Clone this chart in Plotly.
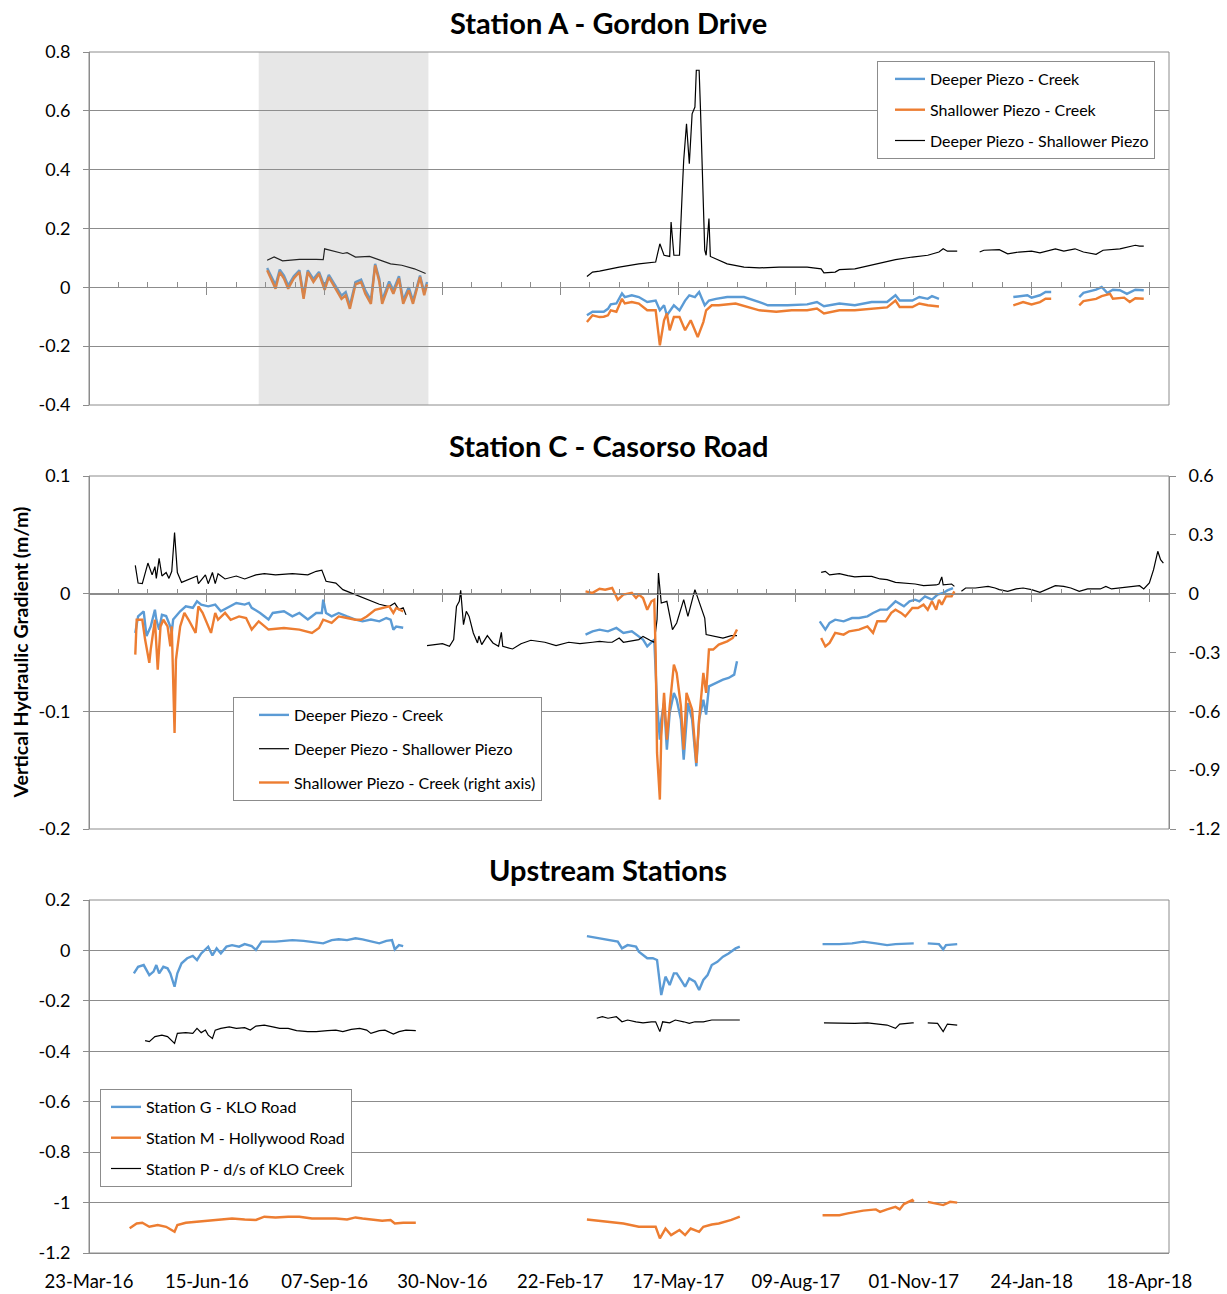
import plotly.graph_objects as go

# ---------------------------------------------------------------------------
# Vertical hydraulic gradient readings (m/m): (date, value); None = no record
# ---------------------------------------------------------------------------

# Station A - Gordon Drive
A_DEEP_CREEK = [
    ("2016-07-28", 0.066), ("2016-08-01", 0.030), ("2016-08-03", 0.008), ("2016-08-06", 0.060),
    ("2016-08-09", 0.040), ("2016-08-12", 0.006), ("2016-08-16", 0.038), ("2016-08-20", 0.058),
    ("2016-08-23", -0.028), ("2016-08-26", 0.058), ("2016-08-30", 0.028), ("2016-09-03", 0.052),
    ("2016-09-07", 0.002), ("2016-09-10", 0.042), ("2016-09-15", 0.002), ("2016-09-19", -0.028),
    ("2016-09-22", -0.016), ("2016-09-25", -0.062), ("2016-09-29", 0.018), ("2016-10-03", 0.026),
    ("2016-10-06", -0.010), ("2016-10-10", -0.044), ("2016-10-13", 0.080), ("2016-10-16", 0.028),
    ("2016-10-18", -0.044), ("2016-10-23", 0.020), ("2016-10-26", -0.010), ("2016-10-30", 0.038),
    ("2016-11-02", -0.044), ("2016-11-06", 0.000), ("2016-11-09", -0.046), ("2016-11-11", -0.012),
    ("2016-11-14", 0.040), ("2016-11-17", -0.016), ("2016-11-19", 0.018),
    ("2017-01-15", None),
    ("2017-03-13", -0.095), ("2017-03-17", -0.083), ("2017-03-25", -0.083), ("2017-03-28", -0.073),
    ("2017-03-30", -0.058), ("2017-04-03", -0.055), ("2017-04-07", -0.021), ("2017-04-09", -0.033),
    ("2017-04-14", -0.027), ("2017-04-19", -0.033), ("2017-04-25", -0.050), ("2017-05-01", -0.045),
    ("2017-05-04", -0.078), ("2017-05-07", -0.061), ("2017-05-09", -0.095), ("2017-05-14", -0.061),
    ("2017-05-18", -0.078), ("2017-05-22", -0.045), ("2017-05-25", -0.027), ("2017-05-29", -0.033),
    ("2017-06-01", -0.016), ("2017-06-05", -0.061), ("2017-06-08", -0.045), ("2017-06-13", -0.039),
    ("2017-06-21", -0.033), ("2017-07-03", -0.033), ("2017-07-14", -0.050), ("2017-07-20", -0.061),
    ("2017-08-03", -0.061), ("2017-08-17", -0.058), ("2017-08-24", -0.050), ("2017-08-29", -0.064),
    ("2017-09-09", -0.055), ("2017-09-20", -0.061), ("2017-10-02", -0.050), ("2017-10-13", -0.050),
    ("2017-10-19", -0.027), ("2017-10-22", -0.045), ("2017-10-31", -0.045), ("2017-11-05", -0.033),
    ("2017-11-11", -0.039), ("2017-11-14", -0.030), ("2017-11-19", -0.039),
    ("2017-12-20", None),
    ("2018-01-11", -0.033), ("2018-01-21", -0.027), ("2018-01-24", -0.035), ("2018-01-30", -0.027),
    ("2018-02-03", -0.016), ("2018-02-07", -0.016),
    ("2018-02-18", None),
    ("2018-02-27", -0.033), ("2018-03-02", -0.019), ("2018-03-11", -0.008), ("2018-03-15", 0.001),
    ("2018-03-19", -0.019), ("2018-03-23", -0.008), ("2018-03-28", -0.010), ("2018-04-02", -0.022),
    ("2018-04-08", -0.008), ("2018-04-14", -0.010),
]

A_SHALLOW_CREEK = [
    ("2016-07-28", 0.058), ("2016-08-01", 0.018), ("2016-08-03", -0.005), ("2016-08-06", 0.052),
    ("2016-08-09", 0.030), ("2016-08-12", -0.005), ("2016-08-16", 0.030), ("2016-08-20", 0.052),
    ("2016-08-23", -0.039), ("2016-08-26", 0.052), ("2016-08-30", 0.018), ("2016-09-03", 0.046),
    ("2016-09-07", -0.009), ("2016-09-10", 0.035), ("2016-09-15", -0.009), ("2016-09-19", -0.039),
    ("2016-09-22", -0.027), ("2016-09-25", -0.073), ("2016-09-29", 0.010), ("2016-10-03", 0.018),
    ("2016-10-06", -0.022), ("2016-10-10", -0.056), ("2016-10-13", 0.075), ("2016-10-16", 0.018),
    ("2016-10-18", -0.056), ("2016-10-23", 0.010), ("2016-10-26", -0.022), ("2016-10-30", 0.030),
    ("2016-11-02", -0.056), ("2016-11-06", -0.010), ("2016-11-09", -0.056), ("2016-11-11", -0.022),
    ("2016-11-14", 0.035), ("2016-11-17", -0.027), ("2016-11-19", 0.010),
    ("2017-01-15", None),
    ("2017-03-13", -0.118), ("2017-03-17", -0.095), ("2017-03-22", -0.101), ("2017-03-25", -0.100),
    ("2017-03-28", -0.095), ("2017-03-30", -0.078), ("2017-04-03", -0.083), ("2017-04-07", -0.039),
    ("2017-04-09", -0.055), ("2017-04-14", -0.050), ("2017-04-19", -0.055), ("2017-04-25", -0.078),
    ("2017-05-01", -0.078), ("2017-05-04", -0.197), ("2017-05-07", -0.112), ("2017-05-09", -0.089),
    ("2017-05-11", -0.146), ("2017-05-14", -0.101), ("2017-05-18", -0.101), ("2017-05-22", -0.146),
    ("2017-05-26", -0.112), ("2017-05-31", -0.169), ("2017-06-04", -0.118), ("2017-06-06", -0.078),
    ("2017-06-10", -0.061), ("2017-06-15", -0.061), ("2017-06-27", -0.055), ("2017-07-05", -0.067),
    ("2017-07-14", -0.078), ("2017-07-26", -0.083), ("2017-08-06", -0.078), ("2017-08-17", -0.078),
    ("2017-08-24", -0.072), ("2017-08-29", -0.089), ("2017-09-09", -0.078), ("2017-09-20", -0.078),
    ("2017-10-02", -0.072), ("2017-10-13", -0.068), ("2017-10-19", -0.045), ("2017-10-22", -0.067),
    ("2017-10-31", -0.067), ("2017-11-05", -0.055), ("2017-11-11", -0.061), ("2017-11-19", -0.065),
    ("2017-12-20", None),
    ("2018-01-11", -0.061), ("2018-01-18", -0.050), ("2018-01-24", -0.058), ("2018-01-30", -0.050),
    ("2018-02-03", -0.039), ("2018-02-07", -0.039),
    ("2018-02-18", None),
    ("2018-02-27", -0.061), ("2018-03-02", -0.047), ("2018-03-11", -0.039), ("2018-03-15", -0.030),
    ("2018-03-21", -0.022), ("2018-03-23", -0.039), ("2018-03-31", -0.035), ("2018-04-04", -0.050),
    ("2018-04-08", -0.037), ("2018-04-14", -0.039),
]

A_DEEP_SHALLOW = [
    ("2016-07-28", 0.092), ("2016-08-02", 0.103), ("2016-08-08", 0.090), ("2016-08-20", 0.095),
    ("2016-09-01", 0.095), ("2016-09-06", 0.094), ("2016-09-07", 0.131), ("2016-09-15", 0.120),
    ("2016-09-20", 0.115), ("2016-09-23", 0.118), ("2016-09-29", 0.103), ("2016-10-09", 0.105),
    ("2016-10-16", 0.094), ("2016-10-24", 0.080), ("2016-11-01", 0.075), ("2016-11-10", 0.063),
    ("2016-11-18", 0.047),
    ("2017-01-15", None),
    ("2017-03-13", 0.037), ("2017-03-17", 0.052), ("2017-03-22", 0.055), ("2017-03-25", 0.058),
    ("2017-04-05", 0.069), ("2017-04-19", 0.080), ("2017-05-01", 0.086), ("2017-05-04", 0.148),
    ("2017-05-07", 0.109), ("2017-05-11", 0.105), ("2017-05-12", 0.222), ("2017-05-14", 0.109),
    ("2017-05-18", 0.109), ("2017-05-20", 0.330), ("2017-05-21", 0.432), ("2017-05-23", 0.556),
    ("2017-05-25", 0.420), ("2017-05-27", 0.590), ("2017-05-29", 0.613), ("2017-05-30", 0.738),
    ("2017-06-01", 0.738), ("2017-06-02", 0.600), ("2017-06-04", 0.296), ("2017-06-05", 0.126),
    ("2017-06-06", 0.109), ("2017-06-08", 0.234), ("2017-06-09", 0.105), ("2017-06-13", 0.097),
    ("2017-06-21", 0.080), ("2017-07-03", 0.069), ("2017-07-14", 0.066), ("2017-07-28", 0.069),
    ("2017-08-17", 0.069), ("2017-08-27", 0.063), ("2017-08-29", 0.049), ("2017-09-06", 0.052),
    ("2017-09-09", 0.060), ("2017-09-20", 0.063), ("2017-10-02", 0.075), ("2017-10-13", 0.086),
    ("2017-10-19", 0.094), ("2017-10-31", 0.103), ("2017-11-11", 0.109), ("2017-11-19", 0.120),
    ("2017-11-22", 0.131), ("2017-11-25", 0.123), ("2017-12-02", 0.123),
    ("2017-12-10", None),
    ("2017-12-18", 0.120), ("2017-12-21", 0.126), ("2018-01-01", 0.128), ("2018-01-07", 0.114),
    ("2018-01-15", 0.120), ("2018-01-24", 0.123), ("2018-01-30", 0.117), ("2018-02-10", 0.131),
    ("2018-02-16", 0.123), ("2018-02-24", 0.131), ("2018-03-02", 0.120), ("2018-03-11", 0.112),
    ("2018-03-16", 0.126), ("2018-03-28", 0.131), ("2018-04-08", 0.143), ("2018-04-11", 0.140),
    ("2018-04-14", 0.140),
]

# Station C - Casorso Road
C_DEEP_CREEK = [
    ("2016-04-25", -0.0334), ("2016-04-27", -0.0193), ("2016-05-01", -0.0150), ("2016-05-03", -0.0360),
    ("2016-05-06", -0.0280), ("2016-05-09", -0.0136), ("2016-05-10", -0.0220), ("2016-05-12", -0.0306),
    ("2016-05-14", -0.0180), ("2016-05-17", -0.0190), ("2016-05-20", -0.0280), ("2016-05-21", -0.0330),
    ("2016-05-22", -0.0220), ("2016-05-27", -0.0150), ("2016-05-31", -0.0108), ("2016-06-05", -0.0120),
    ("2016-06-08", -0.0065), ("2016-06-11", -0.0093), ("2016-06-16", -0.0108), ("2016-06-21", -0.0093),
    ("2016-06-25", -0.0150), ("2016-07-01", -0.0108), ("2016-07-06", -0.0079), ("2016-07-12", -0.0093),
    ("2016-07-15", -0.0079), ("2016-07-17", -0.0120), ("2016-07-23", -0.0164), ("2016-07-29", -0.0220),
    ("2016-08-01", -0.0164), ("2016-08-09", -0.0150), ("2016-08-15", -0.0193), ("2016-08-20", -0.0164),
    ("2016-08-26", -0.0220), ("2016-09-01", -0.0164), ("2016-09-05", -0.0164), ("2016-09-06", -0.0051),
    ("2016-09-08", -0.0164), ("2016-09-12", -0.0193), ("2016-09-17", -0.0164), ("2016-09-23", -0.0193),
    ("2016-09-29", -0.0220), ("2016-10-04", -0.0235), ("2016-10-10", -0.0220), ("2016-10-16", -0.0235),
    ("2016-10-21", -0.0207), ("2016-10-24", -0.0220), ("2016-10-26", -0.0306), ("2016-10-28", -0.0280),
    ("2016-11-02", -0.0290),
    ("2017-01-15", None),
    ("2017-03-12", -0.0348), ("2017-03-17", -0.0320), ("2017-03-22", -0.0306), ("2017-03-28", -0.0320),
    ("2017-04-03", -0.0291), ("2017-04-08", -0.0334), ("2017-04-14", -0.0320), ("2017-04-17", -0.0348),
    ("2017-04-22", -0.0390), ("2017-04-25", -0.0448), ("2017-04-30", -0.0390), ("2017-05-02", -0.0929),
    ("2017-05-04", -0.1240), ("2017-05-05", -0.1070), ("2017-05-07", -0.0929), ("2017-05-09", -0.1325),
    ("2017-05-11", -0.1014), ("2017-05-14", -0.0844), ("2017-05-16", -0.0901), ("2017-05-19", -0.1070),
    ("2017-05-21", -0.1410), ("2017-05-24", -0.0929), ("2017-05-27", -0.1070), ("2017-05-30", -0.1467),
    ("2017-06-01", -0.1070), ("2017-06-04", -0.0901), ("2017-06-06", -0.1028), ("2017-06-08", -0.0788),
    ("2017-06-13", -0.0759), ("2017-06-18", -0.0731), ("2017-06-22", -0.0716), ("2017-06-26", -0.0688),
    ("2017-06-28", -0.0575),
    ("2017-07-30", None),
    ("2017-08-26", -0.0235), ("2017-08-30", -0.0306), ("2017-09-02", -0.0249), ("2017-09-06", -0.0221),
    ("2017-09-12", -0.0235), ("2017-09-18", -0.0207), ("2017-09-23", -0.0207), ("2017-09-29", -0.0193),
    ("2017-10-03", -0.0164), ("2017-10-08", -0.0136), ("2017-10-13", -0.0136), ("2017-10-19", -0.0065),
    ("2017-10-25", -0.0108), ("2017-10-29", -0.0065), ("2017-11-02", -0.0051), ("2017-11-05", -0.0065),
    ("2017-11-09", -0.0023), ("2017-11-14", -0.0051), ("2017-11-18", -0.0008), ("2017-11-22", 0.0006),
    ("2017-11-25", 0.0028), ("2017-11-29", 0.0048),
]

C_DEEP_SHALLOW = [
    ("2016-04-25", 0.0240), ("2016-04-27", 0.0090), ("2016-04-30", 0.0085), ("2016-05-04", 0.0260),
    ("2016-05-07", 0.0160), ("2016-05-09", 0.0230), ("2016-05-10", 0.0130), ("2016-05-12", 0.0300),
    ("2016-05-14", 0.0150), ("2016-05-17", 0.0180), ("2016-05-19", 0.0130), ("2016-05-21", 0.0190),
    ("2016-05-23", 0.0520), ("2016-05-25", 0.0180), ("2016-05-28", 0.0096), ("2016-06-02", 0.0120),
    ("2016-06-08", 0.0150), ("2016-06-09", 0.0085), ("2016-06-14", 0.0160), ("2016-06-16", 0.0085),
    ("2016-06-19", 0.0180), ("2016-06-21", 0.0085), ("2016-06-23", 0.0170), ("2016-06-28", 0.0125),
    ("2016-07-06", 0.0150), ("2016-07-12", 0.0125), ("2016-07-20", 0.0160), ("2016-07-26", 0.0170),
    ("2016-08-03", 0.0160), ("2016-08-15", 0.0170), ("2016-08-26", 0.0160), ("2016-09-01", 0.0190),
    ("2016-09-05", 0.0200), ("2016-09-08", 0.0105), ("2016-09-15", 0.0090), ("2016-09-20", 0.0034),
    ("2016-09-29", -0.0010), ("2016-10-07", -0.0050), ("2016-10-16", -0.0090), ("2016-10-23", -0.0110),
    ("2016-10-27", -0.0080), ("2016-10-30", -0.0136), ("2016-11-02", -0.0120), ("2016-11-04", -0.0180),
    ("2016-11-12", None),
    ("2016-11-19", -0.0442), ("2016-11-24", -0.0433), ("2016-11-30", -0.0425), ("2016-12-05", -0.0448),
    ("2016-12-08", -0.0390), ("2016-12-10", -0.0108), ("2016-12-12", -0.0065), ("2016-12-13", 0.0028),
    ("2016-12-14", -0.0108), ("2016-12-15", -0.0263), ("2016-12-17", -0.0150), ("2016-12-19", -0.0193),
    ("2016-12-22", -0.0334), ("2016-12-25", -0.0419), ("2016-12-26", -0.0360), ("2016-12-28", -0.0433),
    ("2017-01-01", -0.0357), ("2017-01-05", -0.0419), ("2017-01-09", -0.0448), ("2017-01-11", -0.0329),
    ("2017-01-12", -0.0448), ("2017-01-17", -0.0461), ("2017-01-19", -0.0470), ("2017-01-25", -0.0425),
    ("2017-02-01", -0.0396), ("2017-02-11", -0.0413), ("2017-02-19", -0.0442), ("2017-02-28", -0.0413),
    ("2017-03-08", -0.0425), ("2017-03-17", -0.0413), ("2017-03-22", -0.0405), ("2017-03-28", -0.0413),
    ("2017-03-31", -0.0413), ("2017-04-05", -0.0377), ("2017-04-08", -0.0413), ("2017-04-19", -0.0390),
    ("2017-04-22", -0.0363), ("2017-04-27", -0.0396), ("2017-04-30", -0.0413), ("2017-05-02", -0.0220),
    ("2017-05-03", 0.0176), ("2017-05-05", -0.0079), ("2017-05-09", -0.0065), ("2017-05-13", -0.0306),
    ("2017-05-16", -0.0249), ("2017-05-21", -0.0051), ("2017-05-24", -0.0193), ("2017-05-29", 0.0034),
    ("2017-06-02", -0.0108), ("2017-06-05", -0.0207), ("2017-06-06", -0.0348), ("2017-06-13", -0.0368),
    ("2017-06-18", -0.0377), ("2017-06-24", -0.0357), ("2017-06-28", -0.0357),
    ("2017-07-30", None),
    ("2017-08-27", 0.0181), ("2017-08-30", 0.0190), ("2017-09-02", 0.0160), ("2017-09-09", 0.0170),
    ("2017-09-15", 0.0153), ("2017-09-20", 0.0142), ("2017-09-26", 0.0147), ("2017-10-02", 0.0147),
    ("2017-10-08", 0.0125), ("2017-10-13", 0.0119), ("2017-10-19", 0.0096), ("2017-10-25", 0.0091),
    ("2017-11-02", 0.0082), ("2017-11-08", 0.0068), ("2017-11-17", 0.0074), ("2017-11-19", 0.0082),
    ("2017-11-21", 0.0142), ("2017-11-22", 0.0074), ("2017-11-28", 0.0082), ("2017-11-30", 0.0062),
    ("2017-12-03", None),
    ("2017-12-05", 0.0020), ("2017-12-08", 0.0048), ("2017-12-15", 0.0048), ("2017-12-24", 0.0062),
    ("2017-12-29", 0.0048), ("2018-01-01", 0.0034), ("2018-01-07", 0.0020), ("2018-01-13", 0.0040),
    ("2018-01-18", 0.0048), ("2018-01-24", 0.0034), ("2018-01-30", 0.0011), ("2018-02-04", 0.0040),
    ("2018-02-10", 0.0068), ("2018-02-16", 0.0062), ("2018-02-21", 0.0048), ("2018-02-27", 0.0020),
    ("2018-03-05", 0.0040), ("2018-03-14", 0.0040), ("2018-03-18", 0.0062), ("2018-03-22", 0.0040),
    ("2018-03-28", 0.0048), ("2018-04-05", 0.0062), ("2018-04-11", 0.0068), ("2018-04-14", 0.0040),
    ("2018-04-18", 0.0091), ("2018-04-21", 0.0204), ("2018-04-24", 0.0360), ("2018-04-26", 0.0289),
    ("2018-04-28", 0.0260),
]

# plotted against the right-hand axis
C_SHALLOW_CREEK = [
    ("2016-04-25", -0.311), ("2016-04-26", -0.133), ("2016-04-30", -0.133), ("2016-05-02", -0.234),
    ("2016-05-05", -0.353), ("2016-05-06", -0.285), ("2016-05-09", -0.133), ("2016-05-11", -0.387),
    ("2016-05-13", -0.167), ("2016-05-15", -0.133), ("2016-05-18", -0.167), ("2016-05-20", -0.269),
    ("2016-05-21", -0.167), ("2016-05-23", -0.710), ("2016-05-24", -0.336), ("2016-05-27", -0.167),
    ("2016-05-30", -0.098), ("2016-06-02", -0.133), ("2016-06-07", -0.200), ("2016-06-09", -0.065),
    ("2016-06-12", -0.098), ("2016-06-15", -0.149), ("2016-06-18", -0.200), ("2016-06-21", -0.098),
    ("2016-06-23", -0.133), ("2016-06-28", -0.098), ("2016-07-02", -0.133), ("2016-07-08", -0.116),
    ("2016-07-13", -0.124), ("2016-07-17", -0.183), ("2016-07-22", -0.141), ("2016-07-29", -0.183),
    ("2016-08-09", -0.175), ("2016-08-20", -0.183), ("2016-08-29", -0.200), ("2016-09-03", -0.175),
    ("2016-09-06", -0.133), ("2016-09-12", -0.149), ("2016-09-17", -0.116), ("2016-09-23", -0.124),
    ("2016-09-29", -0.133), ("2016-10-03", -0.133), ("2016-10-07", -0.116), ("2016-10-13", -0.082),
    ("2016-10-18", -0.073), ("2016-10-23", -0.065), ("2016-10-26", -0.098), ("2016-10-28", -0.073),
    ("2016-11-02", -0.090),
    ("2017-01-15", None),
    ("2017-03-12", 0.012), ("2017-03-17", 0.004), ("2017-03-22", 0.025), ("2017-03-26", 0.020),
    ("2017-03-31", 0.029), ("2017-04-04", -0.031), ("2017-04-08", -0.005), ("2017-04-14", 0.004),
    ("2017-04-17", -0.022), ("2017-04-19", -0.005), ("2017-04-22", -0.022), ("2017-04-25", -0.082),
    ("2017-04-28", -0.039), ("2017-04-30", -0.031), ("2017-05-01", -0.302), ("2017-05-02", -0.812),
    ("2017-05-04", -1.050), ("2017-05-05", -0.727), ("2017-05-07", -0.506), ("2017-05-09", -0.744),
    ("2017-05-11", -0.574), ("2017-05-14", -0.362), ("2017-05-16", -0.404), ("2017-05-19", -0.574),
    ("2017-05-21", -0.795), ("2017-05-23", -0.506), ("2017-05-27", -0.591), ("2017-05-30", -0.863),
    ("2017-06-01", -0.642), ("2017-06-04", -0.404), ("2017-06-06", -0.506), ("2017-06-08", -0.285),
    ("2017-06-11", -0.285), ("2017-06-15", -0.260), ("2017-06-21", -0.243), ("2017-06-25", -0.226),
    ("2017-06-28", -0.183),
    ("2017-07-30", None),
    ("2017-08-27", -0.226), ("2017-08-30", -0.269), ("2017-09-02", -0.251), ("2017-09-06", -0.200),
    ("2017-09-12", -0.209), ("2017-09-16", -0.192), ("2017-09-23", -0.183), ("2017-09-29", -0.167),
    ("2017-10-03", -0.200), ("2017-10-06", -0.141), ("2017-10-12", -0.141), ("2017-10-16", -0.098),
    ("2017-10-19", -0.082), ("2017-10-23", -0.098), ("2017-10-26", -0.116), ("2017-10-31", -0.073),
    ("2017-11-04", -0.073), ("2017-11-08", -0.056), ("2017-11-11", -0.082), ("2017-11-14", -0.039),
    ("2017-11-17", -0.082), ("2017-11-19", -0.031), ("2017-11-21", -0.056), ("2017-11-24", -0.014),
    ("2017-11-28", -0.014), ("2017-11-30", 0.012),
]

# Upstream stations
G_KLO_ROAD = [
    ("2016-04-24", -0.091), ("2016-04-27", -0.065), ("2016-05-01", -0.058), ("2016-05-03", -0.078),
    ("2016-05-05", -0.098), ("2016-05-08", -0.084), ("2016-05-10", -0.058), ("2016-05-12", -0.091),
    ("2016-05-15", -0.065), ("2016-05-18", -0.071), ("2016-05-20", -0.091), ("2016-05-23", -0.144),
    ("2016-05-25", -0.091), ("2016-05-28", -0.051), ("2016-06-01", -0.031), ("2016-06-05", -0.022),
    ("2016-06-08", -0.038), ("2016-06-11", -0.012), ("2016-06-14", 0.002), ("2016-06-16", 0.015),
    ("2016-06-19", -0.020), ("2016-06-22", 0.008), ("2016-06-25", -0.012), ("2016-06-29", 0.015),
    ("2016-07-03", 0.021), ("2016-07-08", 0.015), ("2016-07-12", 0.025), ("2016-07-17", 0.017),
    ("2016-07-20", 0.002), ("2016-07-24", 0.035), ("2016-08-03", 0.035), ("2016-08-15", 0.041),
    ("2016-08-23", 0.038), ("2016-09-01", 0.031), ("2016-09-06", 0.028), ("2016-09-12", 0.041),
    ("2016-09-17", 0.044), ("2016-09-23", 0.041), ("2016-09-29", 0.048), ("2016-10-04", 0.044),
    ("2016-10-10", 0.035), ("2016-10-16", 0.028), ("2016-10-21", 0.038), ("2016-10-25", 0.041),
    ("2016-10-27", 0.004), ("2016-10-30", 0.021), ("2016-11-02", 0.017),
    ("2017-01-15", None),
    ("2017-03-13", 0.057), ("2017-03-22", 0.048), ("2017-03-28", 0.041), ("2017-04-04", 0.035),
    ("2017-04-07", 0.008), ("2017-04-11", 0.021), ("2017-04-17", 0.015), ("2017-04-19", -0.005),
    ("2017-04-25", -0.031), ("2017-04-29", -0.031), ("2017-05-02", -0.038), ("2017-05-04", -0.117),
    ("2017-05-05", -0.177), ("2017-05-08", -0.104), ("2017-05-11", -0.137), ("2017-05-14", -0.091),
    ("2017-05-16", -0.091), ("2017-05-19", -0.117), ("2017-05-22", -0.144), ("2017-05-25", -0.111),
    ("2017-05-29", -0.124), ("2017-06-01", -0.157), ("2017-06-04", -0.117), ("2017-06-07", -0.098),
    ("2017-06-10", -0.058), ("2017-06-14", -0.045), ("2017-06-18", -0.025), ("2017-06-22", -0.012),
    ("2017-06-27", 0.008), ("2017-06-30", 0.015),
    ("2017-07-30", None),
    ("2017-08-28", 0.025), ("2017-09-09", 0.025), ("2017-09-18", 0.028), ("2017-09-26", 0.035),
    ("2017-10-05", 0.028), ("2017-10-13", 0.021), ("2017-10-19", 0.025), ("2017-11-01", 0.028),
    ("2017-11-06", None),
    ("2017-11-11", 0.028), ("2017-11-19", 0.025), ("2017-11-22", 0.004), ("2017-11-24", 0.021),
    ("2017-12-02", 0.025),
]

M_HOLLYWOOD_ROAD = [
    ("2016-04-21", -1.102), ("2016-04-26", -1.083), ("2016-04-30", -1.080), ("2016-05-05", -1.096),
    ("2016-05-11", -1.089), ("2016-05-17", -1.096), ("2016-05-23", -1.116), ("2016-05-25", -1.089),
    ("2016-05-31", -1.080), ("2016-06-08", -1.076), ("2016-06-16", -1.073), ("2016-06-25", -1.069),
    ("2016-07-03", -1.063), ("2016-07-12", -1.067), ("2016-07-20", -1.069), ("2016-07-26", -1.056),
    ("2016-08-03", -1.059), ("2016-08-12", -1.056), ("2016-08-20", -1.056), ("2016-08-29", -1.063),
    ("2016-09-06", -1.063), ("2016-09-15", -1.063), ("2016-09-23", -1.067), ("2016-09-29", -1.059),
    ("2016-10-04", -1.063), ("2016-10-11", -1.069), ("2016-10-18", -1.072), ("2016-10-24", -1.069),
    ("2016-10-27", -1.083), ("2016-11-02", -1.080), ("2016-11-11", -1.080),
    ("2017-01-15", None),
    ("2017-03-13", -1.067), ("2017-03-22", -1.072), ("2017-03-31", -1.080), ("2017-04-08", -1.083),
    ("2017-04-19", -1.096), ("2017-05-01", -1.096), ("2017-05-04", -1.142), ("2017-05-08", -1.103),
    ("2017-05-12", -1.129), ("2017-05-18", -1.109), ("2017-05-22", -1.129), ("2017-05-26", -1.103),
    ("2017-06-01", -1.116), ("2017-06-04", -1.096), ("2017-06-10", -1.087), ("2017-06-15", -1.083),
    ("2017-06-24", -1.069), ("2017-06-30", -1.056),
    ("2017-07-30", None),
    ("2017-08-28", -1.050), ("2017-09-09", -1.050), ("2017-09-15", -1.043), ("2017-09-26", -1.032),
    ("2017-10-05", -1.027), ("2017-10-08", -1.037), ("2017-10-13", -1.027), ("2017-10-19", -1.017),
    ("2017-10-22", -1.027), ("2017-10-25", -1.006), ("2017-10-31", -0.990), ("2017-11-01", -0.997),
    ("2017-11-06", None),
    ("2017-11-11", -0.997), ("2017-11-17", -1.003), ("2017-11-22", -1.010), ("2017-11-27", -0.997),
    ("2017-12-02", -1.000),
]

P_DS_KLO_CREEK = [
    ("2016-05-02", -0.358), ("2016-05-05", -0.362), ("2016-05-09", -0.342), ("2016-05-14", -0.336),
    ("2016-05-18", -0.342), ("2016-05-23", -0.369), ("2016-05-25", -0.329), ("2016-05-31", -0.326),
    ("2016-06-05", -0.329), ("2016-06-08", -0.309), ("2016-06-11", -0.326), ("2016-06-14", -0.316),
    ("2016-06-16", -0.336), ("2016-06-19", -0.349), ("2016-06-21", -0.316), ("2016-06-25", -0.309),
    ("2016-07-01", -0.303), ("2016-07-06", -0.309), ("2016-07-12", -0.306), ("2016-07-16", -0.316),
    ("2016-07-20", -0.300), ("2016-07-26", -0.296), ("2016-08-01", -0.303), ("2016-08-06", -0.309),
    ("2016-08-12", -0.309), ("2016-08-18", -0.318), ("2016-08-26", -0.322), ("2016-09-01", -0.322),
    ("2016-09-09", -0.318), ("2016-09-15", -0.316), ("2016-09-20", -0.322), ("2016-09-26", -0.313),
    ("2016-10-02", -0.309), ("2016-10-07", -0.316), ("2016-10-10", -0.329), ("2016-10-16", -0.318),
    ("2016-10-20", -0.316), ("2016-10-26", -0.332), ("2016-10-30", -0.322), ("2016-11-04", -0.316),
    ("2016-11-11", -0.318),
    ("2017-01-15", None),
    ("2017-03-20", -0.269), ("2017-03-24", -0.263), ("2017-03-28", -0.269), ("2017-04-03", -0.263),
    ("2017-04-07", -0.283), ("2017-04-11", -0.276), ("2017-04-17", -0.283), ("2017-04-22", -0.287),
    ("2017-04-28", -0.283), ("2017-05-01", -0.283), ("2017-05-04", -0.322), ("2017-05-06", -0.283),
    ("2017-05-11", -0.287), ("2017-05-15", -0.276), ("2017-05-21", -0.283), ("2017-05-25", -0.289),
    ("2017-05-29", -0.283), ("2017-06-04", -0.283), ("2017-06-10", -0.276), ("2017-06-15", -0.276),
    ("2017-06-30", -0.276),
    ("2017-07-30", None),
    ("2017-08-29", -0.287), ("2017-09-09", -0.289), ("2017-09-20", -0.289), ("2017-09-29", -0.287),
    ("2017-10-08", -0.292), ("2017-10-13", -0.296), ("2017-10-19", -0.309), ("2017-10-22", -0.292),
    ("2017-10-31", -0.287), ("2017-11-01", -0.287),
    ("2017-11-06", None),
    ("2017-11-11", -0.287), ("2017-11-18", -0.289), ("2017-11-22", -0.322), ("2017-11-25", -0.292),
    ("2017-12-02", -0.296),
]

# Inactive period at Station A (shaded)
A_SHADED_PERIOD = ("2016-07-22", "2016-11-20")

# Axis scales
X_START, X_END = "2016-03-23", "2018-05-02"
MAJOR_DAYS, MINOR_DAYS = 84, 21
A_YTICKS = [-0.4, -0.2, 0, 0.2, 0.4, 0.6, 0.8]
C_YTICKS_LEFT = [-0.2, -0.1, 0, 0.1]
C_YTICKS_RIGHT = [-1.2, -0.9, -0.6, -0.3, 0, 0.3, 0.6]
U_YTICKS = [-1.2, -1, -0.8, -0.6, -0.4, -0.2, 0, 0.2]

TITLES = ["Station A - Gordon Drive", "Station C - Casorso Road", "Upstream Stations"]
Y_TITLE = "Vertical Hydraulic Gradient (m/m)"

# ---------------------------------------------------------------------------
BLUE, ORANGE, BLACK = "#5B9BD5", "#ED7D31", "#000000"
GRID = "#8C8C8C"
FONT = "Lato"
DAY_MS = 86400000

W, H = 1227, 1294
ML, MR, MT, MB = 89, 58, 52, 41
PH = H - MT - MB
PW = W - ML - MR


def fy(row):
    """page row -> paper y"""
    return (H - MB - row) / PH


def fx(col):
    """page column -> paper x"""
    return (col - ML) / PW


DOM_A = [fy(405), fy(52)]
DOM_C = [fy(829), fy(476)]
DOM_U = [0.0, fy(900)]


def zero_pos(dom, lo, hi):
    return dom[0] + (dom[1] - dom[0]) * (0 - lo) / (hi - lo)


ZERO_A = zero_pos(DOM_A, A_YTICKS[0], A_YTICKS[-1])
ZERO_C = zero_pos(DOM_C, C_YTICKS_LEFT[0], C_YTICKS_LEFT[-1])
ZERO_U = zero_pos(DOM_U, U_YTICKS[0], U_YTICKS[-1])


def series(data, name, color, width, xa, ya, legend):
    return go.Scatter(
        x=[d for d, _ in data], y=[v for _, v in data], name=name, mode="lines",
        line=dict(color=color, width=width), xaxis=xa, yaxis=ya, legend=legend,
        legendgroup=name + xa + ya, connectgaps=False, hoverinfo="skip",
    )


fig = go.Figure()
fig.add_trace(series(A_DEEP_CREEK, "Deeper Piezo - Creek", BLUE, 2.4, "x", "y", "legend"))
fig.add_trace(series(A_SHALLOW_CREEK, "Shallower Piezo - Creek", ORANGE, 2.4, "x", "y", "legend"))
fig.add_trace(series(A_DEEP_SHALLOW, "Deeper Piezo - Shallower Piezo", BLACK, 1.2, "x", "y", "legend"))

fig.add_trace(series(C_DEEP_CREEK, "Deeper Piezo - Creek", BLUE, 2.4, "x2", "y2", "legend2"))
fig.add_trace(series(C_DEEP_SHALLOW, "Deeper Piezo - Shallower Piezo", BLACK, 1.2, "x2", "y2", "legend2"))
fig.add_trace(series(C_SHALLOW_CREEK, "Shallower Piezo - Creek (right axis)", ORANGE, 2.4, "x2", "y3", "legend2"))

fig.add_trace(series(G_KLO_ROAD, "Station G - KLO Road", BLUE, 2.4, "x3", "y4", "legend3"))
fig.add_trace(series(M_HOLLYWOOD_ROAD, "Station M - Hollywood Road", ORANGE, 2.4, "x3", "y4", "legend3"))
fig.add_trace(series(P_DS_KLO_CREEK, "Station P - d/s of KLO Creek", BLACK, 1.2, "x3", "y4", "legend3"))

tickfont = dict(family=FONT, size=18, color="#000000")


def zero_axis(position, overlay=None, upper=False):
    ax = dict(
        type="date", range=[X_START, X_END], domain=[0, 1], anchor="free", position=position,
        showgrid=False, zeroline=False, showticklabels=False, automargin=False,
        tick0=X_START, dtick=MAJOR_DAYS * DAY_MS, tickcolor=GRID, tickwidth=1,
    )
    if upper:
        ax.update(ticks="inside", ticklen=6, showline=False)
    else:
        ax.update(ticks="outside", ticklen=7, showline=True, linecolor=GRID, linewidth=1,
                  minor=dict(tick0=X_START, dtick=MINOR_DAYS * DAY_MS, ticks="inside",
                             ticklen=5, tickcolor=GRID, showgrid=False))
    if overlay:
        ax["overlaying"] = overlay
    return ax


def y_axis(dom, ticks, side="left", overlay=None, grid=True):
    ax = dict(
        range=[ticks[0], ticks[-1]], tickvals=ticks, ticktext=[f"{t:g}" for t in ticks],
        showgrid=grid, gridcolor=GRID, gridwidth=1, zeroline=False, automargin=False,
        showline=True, linecolor=GRID, linewidth=1, ticks="outside", ticklen=6,
        tickcolor=GRID, tickfont=tickfont, anchor="free", side=side,
        position=0 if side == "left" else 1, ticklabelstandoff=9,
    )
    if overlay:
        ax["overlaying"] = overlay
    else:
        ax["domain"] = dom
    return ax


legend_common = dict(
    bgcolor="white", bordercolor=GRID, borderwidth=1, font=dict(family=FONT, size=16, color="#000"),
    xanchor="left", yanchor="top", traceorder="grouped", itemwidth=30,
)

fig.update_layout(
    width=W, height=H, autosize=False,
    margin=dict(l=ML, r=MR, t=MT, b=MB, autoexpand=False),
    paper_bgcolor="white", plot_bgcolor="rgba(0,0,0,0)",
    font=dict(family=FONT, color="#000"),
    xaxis=zero_axis(ZERO_A),
    xaxis2=zero_axis(ZERO_C),
    xaxis3=dict(
        type="date", range=[X_START, X_END], domain=[0, 1], anchor="y4", automargin=False,
        showgrid=False, zeroline=False, showline=True, linecolor=GRID, linewidth=1,
        ticks="", tick0=X_START, dtick=MAJOR_DAYS * DAY_MS, tickformat="%d-%b-%y",
        tickfont=dict(family=FONT, size=18.5, color="#000"), ticklabelstandoff=12,
    ),
    xaxis4=zero_axis(ZERO_A, overlay="x", upper=True),
    xaxis5=zero_axis(ZERO_C, overlay="x2", upper=True),
    xaxis6=zero_axis(ZERO_U, overlay="x3"),
    xaxis7=zero_axis(ZERO_U, overlay="x3", upper=True),
    yaxis=y_axis(DOM_A, A_YTICKS),
    yaxis2=y_axis(DOM_C, C_YTICKS_LEFT),
    yaxis3=y_axis(None, C_YTICKS_RIGHT, side="right", overlay="y2", grid=False),
    yaxis4=y_axis(DOM_U, U_YTICKS),
    legend=dict(x=fx(877), y=fy(61), tracegroupgap=7, indentation=12, **legend_common),
    legend2=dict(x=fx(233), y=fy(697), tracegroupgap=10, indentation=20, **legend_common),
    legend3=dict(x=fx(100), y=fy(1089), tracegroupgap=7, indentation=5, **legend_common),
    showlegend=True,
)

# plot frames and the shaded period
shapes = []
for dom in (DOM_A, DOM_C, DOM_U):
    shapes.append(dict(type="rect", xref="paper", yref="paper", x0=0, x1=1, y0=dom[0], y1=dom[1],
                       line=dict(color=GRID, width=1), fillcolor="rgba(0,0,0,0)", layer="above"))
shapes.append(dict(type="rect", xref="x", yref="paper", x0=A_SHADED_PERIOD[0], x1=A_SHADED_PERIOD[1],
                   y0=DOM_A[0], y1=DOM_A[1], line=dict(width=0),
                   fillcolor="rgba(150,150,150,0.23)", layer="above"))
fig.update_layout(shapes=shapes)

# panel titles and the shared y-axis title
annotations = []
for title, row in zip(TITLES, (22, 445, 869)):
    annotations.append(dict(text=f"<b>{title}</b>", xref="paper", yref="paper", x=fx(608), y=fy(row),
                            xanchor="center", yanchor="middle", showarrow=False,
                            font=dict(family=FONT, size=29, color="#000")))
annotations.append(dict(text=f"<b>{Y_TITLE}</b>", xref="paper", yref="paper", x=fx(20),
                        y=(DOM_C[0] + DOM_C[1]) / 2, textangle=-90, xanchor="center", yanchor="middle",
                        showarrow=False, font=dict(family=FONT, size=19.5, color="#000")))
fig.update_layout(annotations=annotations)

fig.write_html("out.html")
